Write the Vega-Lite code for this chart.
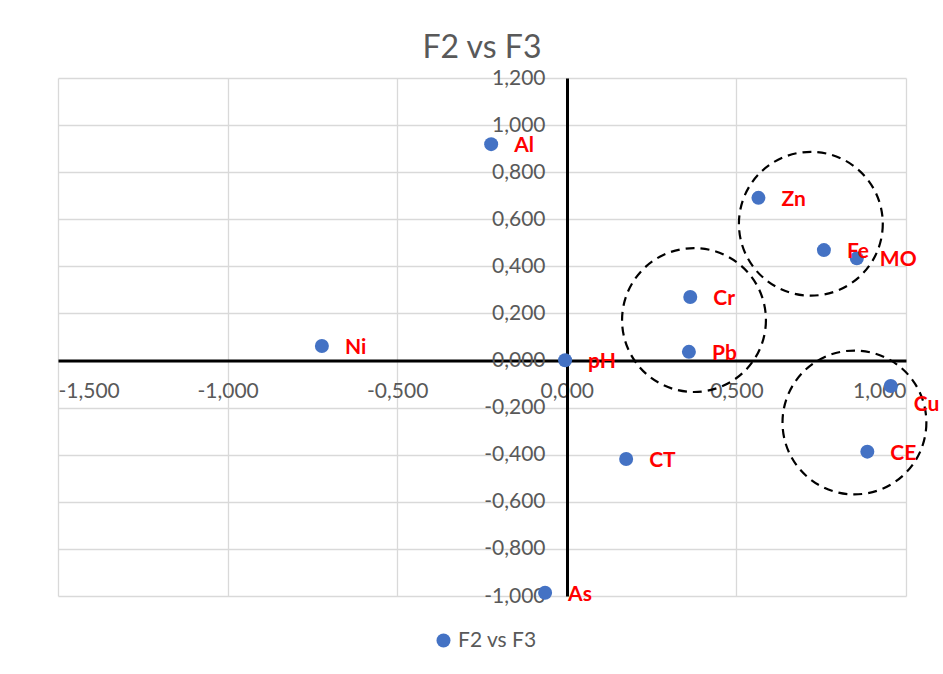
{
  "$schema": "https://vega.github.io/schema/vega-lite/v6.json",
  "autosize": "none",
  "width": 848,
  "height": 518,
  "padding": {"left": 58, "top": 78, "right": 37, "bottom": 78},
  "background": "white",
  "title": {"text": "F2 vs F3", "fontSize": 32, "font": "Lato", "fontWeight": "normal", "color": "#595959", "anchor": "middle", "offset": 2},
  "datasets": {
    "pts": [
      {"label": "Al", "F2": -0.223, "F3": 0.919},
      {"label": "Zn", "F2": 0.565, "F3": 0.691},
      {"label": "Fe", "F2": 0.758, "F3": 0.469},
      {"label": "MO", "F2": 0.855, "F3": 0.434},
      {"label": "Cr", "F2": 0.364, "F3": 0.270},
      {"label": "Pb", "F2": 0.360, "F3": 0.037},
      {"label": "Ni", "F2": -0.722, "F3": 0.062},
      {"label": "pH", "F2": -0.005, "F3": 0.001},
      {"label": "Cu", "F2": 0.955, "F3": -0.108},
      {"label": "CE", "F2": 0.886, "F3": -0.387},
      {"label": "CT", "F2": 0.175, "F3": -0.418},
      {"label": "As", "F2": -0.064, "F3": -0.986}
    ],
    "circles": [
      {"group": "A", "F2": 0.7195, "F3": 0.581},
      {"group": "B", "F2": 0.375, "F3": 0.172},
      {"group": "C", "F2": 0.848, "F3": -0.263}
    ]
  },
  "layer": [
    {
      "data": {"name": "circles"},
      "mark": {"type": "point", "shape": "circle", "filled": false, "size": 20700, "stroke": "black", "strokeWidth": 2.2, "strokeDash": [9, 6], "opacity": 1},
      "encoding": {
        "x": {"field": "F2", "type": "quantitative", "scale": {"domain": [-1.5, 1], "nice": false, "zero": false},
          "axis": {"orient": "bottom", "offset": -235.5, "values": [-1.5, -1, -0.5, 0, 0.5, 1], "title": null,
            "labelExpr": "replace(replace(format(datum.value, '.3f'), '.', ','), '\u2212', '-')",
            "domainColor": "black", "domainWidth": 3, "ticks": false, "tickSize": 0, "labelPadding": 20,
            "grid": true, "gridColor": "#d9d9d9", "gridWidth": 1.3,
            "labelFont": "Lato", "labelFontSize": 21, "labelColor": "#595959"}},
        "y": {"field": "F3", "type": "quantitative", "scale": {"domain": [-1, 1.2], "nice": false, "zero": false},
          "axis": {"orient": "left", "offset": -509, "values": [-1, -0.8, -0.6, -0.4, -0.2, 0, 0.2, 0.4, 0.6, 0.8, 1, 1.2], "title": null,
            "labelExpr": "replace(replace(format(datum.value, '.3f'), '.', ','), '\u2212', '-')",
            "domainColor": "black", "domainWidth": 3, "ticks": false, "tickSize": 0, "labelPadding": 22,
            "grid": true, "gridColor": "#d9d9d9", "gridWidth": 1.3,
            "labelFont": "Lato", "labelFontSize": 21, "labelColor": "#595959"}}
      }
    },
    {
      "data": {"name": "pts"},
      "mark": {"type": "point", "shape": "circle", "filled": true, "size": 196, "opacity": 1},
      "encoding": {
        "x": {"field": "F2", "type": "quantitative"},
        "y": {"field": "F3", "type": "quantitative"},
        "color": {"datum": "F2 vs F3", "type": "nominal", "scale": {"range": ["#4472C4"]},
          "legend": {"title": null, "orient": "none", "legendX": 375, "legendY": 552, "symbolSize": 196, "symbolType": "circle",
            "labelFont": "Lato", "labelFontSize": 21, "labelColor": "#595959", "symbolStrokeWidth": 0}}
      }
    },
    {
      "data": {"name": "pts"},
      "transform": [{"filter": "datum.label != 'Cu'"}],
      "mark": {"type": "text", "align": "left", "baseline": "middle", "dx": 23, "dy": 2, "font": "Lato", "fontSize": 21, "fontWeight": "bold", "color": "#FF0000"},
      "encoding": {
        "x": {"field": "F2", "type": "quantitative"},
        "y": {"field": "F3", "type": "quantitative"},
        "text": {"field": "label"}
      }
    },
    {
      "data": {"name": "pts"},
      "transform": [{"filter": "datum.label == 'Cu'"}],
      "mark": {"type": "text", "align": "left", "baseline": "middle", "dx": 23, "dy": 19, "font": "Lato", "fontSize": 21, "fontWeight": "bold", "color": "#FF0000"},
      "encoding": {
        "x": {"field": "F2", "type": "quantitative"},
        "y": {"field": "F3", "type": "quantitative"},
        "text": {"field": "label"}
      }
    }
  ],
  "config": {"view": {"stroke": null}}
}
